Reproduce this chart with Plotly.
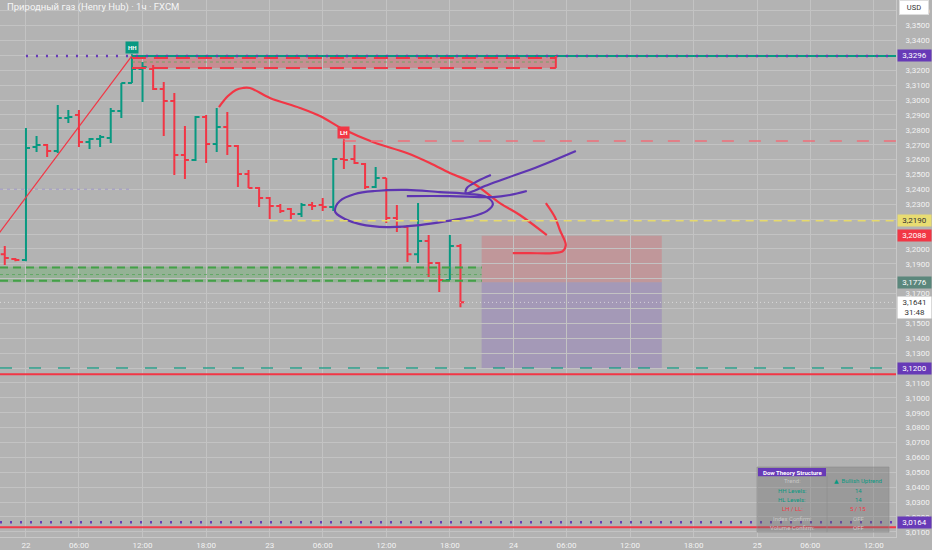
import plotly.graph_objects as go

# Hourly OHLC bars (bar index 0 = first bar of the 22nd)
bar_idx = list(range(-2, 42))
bar_open = [3.1965, 3.1932, 3.1925, 3.2685, 3.2698, 3.2658, 3.2879, 3.2900, 3.2718, 3.2738,
            3.2745, 3.2926, 3.3115, 3.3209, 3.3209, 3.3074, 3.2994, 3.2631, 3.2597, 3.2886,
            3.2705, 3.2819, 3.2691, 3.2503, 3.2409, 3.2342, 3.2288, 3.2268, 3.2234, 3.2295,
            3.2295, 3.2281, 3.2604, 3.2604, 3.2570, 3.2416, 3.2476, 3.2207, 3.2147, 3.1965,
            3.2053, 3.1905, 3.1791, 3.2019]
bar_high = [3.2019, 3.1939, 3.2812, 3.2758, 3.2705, 3.2967, 3.2933, 3.2933, 3.2745, 3.2765,
            3.2947, 3.3115, 3.3296, 3.3256, 3.3236, 3.3121, 3.3047, 3.2826, 3.2893, 3.2900,
            3.2947, 3.2920, 3.2698, 3.2530, 3.2416, 3.2348, 3.2301, 3.2275, 3.2308, 3.2315,
            3.2342, 3.2611, 3.2725, 3.2698, 3.2577, 3.2550, 3.2476, 3.2295, 3.2160, 3.2308,
            3.2093, 3.1912, 3.2093, 3.2033]
bar_low = [3.1892, 3.1918, 3.1918, 3.2651, 3.2617, 3.2644, 3.2846, 3.2685, 3.2671, 3.2685,
           3.2711, 3.2879, 3.3115, 3.2987, 3.3068, 3.2758, 3.2496, 3.2469, 3.2590, 3.2577,
           3.2651, 3.2631, 3.2416, 3.2409, 3.2281, 3.2201, 3.2241, 3.2201, 3.2214, 3.2261,
           3.2254, 3.2254, 3.2537, 3.2570, 3.2402, 3.2409, 3.2174, 3.2113, 3.1912, 3.1905,
           3.1811, 3.1710, 3.1791, 3.1609]
bar_close = [3.1939, 3.1925, 3.2678, 3.2698, 3.2658, 3.2879, 3.2886, 3.2718, 3.2738, 3.2752,
             3.2926, 3.3115, 3.3209, 3.3222, 3.3074, 3.2994, 3.2631, 3.2597, 3.2886, 3.2705,
             3.2819, 3.2691, 3.2503, 3.2409, 3.2342, 3.2288, 3.2254, 3.2234, 3.2295, 3.2288,
             3.2281, 3.2604, 3.2597, 3.2577, 3.2416, 3.2476, 3.2207, 3.2147, 3.1965, 3.2053,
             3.1905, 3.1791, 3.2019, 3.1641]

# time axis
tick_pos = [0, 5, 11, 17, 23, 28, 34, 40, 46, 51, 57, 63, 69, 74, 80]
tick_text = ["22", "06:00", "12:00", "18:00", "23", "06:00", "12:00", "18:00",
             "24", "06:00", "12:00", "18:00", "25", "06:00", "12:00"]

# levels
hh_idx, hh_price = 10, 3.3296
lh_idx, lh_price = 30, 3.2725
supply_zone = [3.3215, 3.3296]
supply_end = 50
eq_low_idx, eq_low = 23, 3.2190
old_level = 3.2401
demand_zone = [3.1776, 3.1880]
demand_end = 43
pos_start, pos_end = 43, 60
entry, stop, target = 3.1776, 3.2088, 3.1200
low_line = 3.1159
bottom_dotted = 3.0164
bottom_red = 3.0131
last_price = 3.1641
countdown = "31:48"

# zigzag leg into the HH
zz_x = [-3, 10]
zz_y = [3.2061, 3.3296]

# hand drawn lines
red_curve_x = [18.21, 19.06, 19.81, 20.47, 21.13, 23.02, 25.85, 27.74, 29.91, 32.74, 35.94,
               38.11, 40.0, 42.17, 44.72, 46.6, 49.15]
red_curve_y = [3.2953, 3.3027, 3.3068, 3.3081, 3.3081, 3.3014, 3.2947, 3.2893, 3.2805, 3.2718,
               3.2644, 3.2577, 3.2510, 3.2443, 3.2308, 3.2228, 3.2093]
red_hook_x = [49.06, 49.91, 50.38, 50.94, 50.66, 49.72, 47.55, 45.94]
red_hook_y = [3.2308, 3.2214, 3.2127, 3.2026, 3.1986, 3.1972, 3.1972, 3.1972]
loop_x = [29.15, 29.62, 31.04, 32.92, 35.94, 39.06, 41.89, 43.49, 44.06, 43.49, 41.89, 40.28,
          37.17, 34.06, 31.51, 30.09, 29.25, 29.15]
loop_y = [3.2261, 3.2322, 3.2369, 3.2389, 3.2396, 3.2382, 3.2369, 3.2348, 3.2301, 3.2254,
          3.2214, 3.2194, 3.2160, 3.2147, 3.2167, 3.2201, 3.2241, 3.2261]
stroke_x = [35.94, 40.0, 44.06, 45.66, 47.26]
stroke_y = [3.2355, 3.2355, 3.2348, 3.2362, 3.2389]
arrow_x = [43.87, 42.64, 41.6, 41.51, 42.26, 43.3, 45.38, 48.49, 51.89]
arrow_y = [3.2496, 3.2456, 3.2409, 3.2375, 3.2389, 3.2422, 3.2476, 3.2557, 3.2658]

# dow theory table
table_keys = ["Trend:", "HH Levels:", "HL Levels:", "LH / LL:", "Index Confirm:", "Volume Confirm:"]
table_vals = ["▲  Bullish Uptrend", "14", "14", "5 / 15", "OFF", "OFF"]

TEAL = "#089981"
RED = "#f23645"
PURPLE = "#673ab7"
BG = "#b3b3b3"
GRID = "#c3c3c3"
X_MIN, X_MAX = -2.45, 82.1
Y_MIN, Y_MAX = 3.0065, 3.3672
PLOT_W, PLOT_H = 896, 537


def px(x):
    return x / PLOT_W


def py(y):
    return 1 - y / PLOT_H


fig = go.Figure()

# zones and boxes
fig.add_shape(type="rect", x0=hh_idx, x1=supply_end, y0=supply_zone[0], y1=supply_zone[1],
              fillcolor="rgba(242,54,69,0.3)", line_width=0, layer="below")
fig.add_shape(type="rect", x0=X_MIN, x1=demand_end, y0=demand_zone[0], y1=demand_zone[1],
              fillcolor="rgba(76,175,80,0.3)", line_width=0, layer="below")
fig.add_shape(type="rect", x0=pos_start, x1=pos_end, y0=entry, y1=stop,
              fillcolor="rgba(242,54,69,0.22)", line_width=0, layer="below")
fig.add_shape(type="rect", x0=pos_start, x1=pos_end, y0=target, y1=entry,
              fillcolor="rgba(126,87,194,0.28)", line_width=0, layer="below")


def hline(x0, x1, y, color, width=1, dash="solid"):
    fig.add_shape(type="line", x0=x0, x1=x1, y0=y, y1=y,
                  line=dict(color=color, width=width, dash=dash))


hline(hh_idx, X_MAX, hh_price, TEAL, 2)
hline(0, X_MAX, hh_price, PURPLE, 2.5, "2px,8px")
hline(hh_idx, supply_end, supply_zone[1] - 0.0013, RED, 2, "14px,8px")
hline(hh_idx, supply_end, supply_zone[0], RED, 2, "14px,8px")
hline(hh_idx, supply_end, (supply_zone[0] + supply_zone[1]) / 2, "rgba(76,175,80,0.7)", 1, "3px,3px")
fig.add_shape(type="line", x0=supply_end, x1=supply_end, y0=supply_zone[0], y1=supply_zone[1],
              line=dict(color=RED, width=2))
hline(X_MIN, hh_idx, old_level, "rgba(150,140,200,0.8)", 1, "3px,4px")
hline(lh_idx, X_MAX, lh_price, "rgba(240,110,120,0.75)", 2, "12px,15px")
hline(eq_low_idx, X_MAX, eq_low, "#e6d96b", 1.5, "8px,6px")
hline(X_MIN, demand_end, demand_zone[1] - 0.0005, "#43a047", 2, "8px,5px")
hline(X_MIN, demand_end, demand_zone[0] + 0.0010, "#43a047", 2, "8px,5px")
hline(X_MIN, demand_end, (demand_zone[0] + demand_zone[1]) / 2, "rgba(67,160,71,0.6)", 1, "3px,3px")
hline(X_MIN, X_MAX, target, "rgba(8,153,129,0.6)", 2, "12px,17px")
hline(X_MIN, X_MAX, low_line, RED, 2)
hline(X_MIN, X_MAX, bottom_dotted, PURPLE, 2.5, "2px,8px")
hline(X_MIN, X_MAX, bottom_red, RED, 2)
hline(X_MIN, X_MAX, last_price, "rgba(235,235,235,0.7)", 1, "1px,3px")

# zigzag
fig.add_trace(go.Scatter(x=zz_x, y=zz_y, mode="lines", line=dict(color=RED, width=1.2),
                         hoverinfo="skip", showlegend=False))

# bars
fig.add_trace(go.Ohlc(
    x=bar_idx, open=bar_open, high=bar_high, low=bar_low, close=bar_close,
    increasing_line_color=TEAL, decreasing_line_color=RED,
    line_width=2, tickwidth=0.38, showlegend=False
))

# freehand drawings
for xs, ys, col in [(red_curve_x, red_curve_y, RED), (red_hook_x, red_hook_y, RED),
                    (loop_x, loop_y, "#5e35b1"), (stroke_x, stroke_y, "#5e35b1"),
                    (arrow_x, arrow_y, "#5e35b1")]:
    fig.add_trace(go.Scatter(x=xs, y=ys, mode="lines",
                             line=dict(color=col, width=2.2, shape="spline", smoothing=1.0),
                             hoverinfo="skip", showlegend=False))

annotations = []

# HH / LH markers
annotations.append(dict(x=hh_idx, y=hh_price, xref="x", yref="y", text="<b>HH</b>",
                        showarrow=True, ax=0, ay=-8, arrowhead=0, arrowwidth=1.5, arrowcolor=TEAL,
                        bgcolor=TEAL, font=dict(size=6, color="white"), borderpad=2))
annotations.append(dict(x=lh_idx, y=lh_price, xref="x", yref="y", text="<b>LH</b>",
                        showarrow=True, ax=0, ay=-8, arrowhead=0, arrowwidth=1.5, arrowcolor=RED,
                        bgcolor=RED, font=dict(size=6, color="white"), borderpad=2))

# price axis labels
for val, bg, fg in [(hh_price, PURPLE, "white"), (eq_low, "#e8dc72", "#333333"),
                    (stop, RED, "white"), (entry, "#5b877c", "white"),
                    (target, PURPLE, "white"), (bottom_dotted, PURPLE, "white")]:
    annotations.append(dict(x=1, y=val, xref="paper", yref="y", xanchor="left", xshift=1,
                            yanchor="middle",
                            text=f"{val:.4f}".replace(".", ","), showarrow=False,
                            bgcolor=bg, font=dict(size=8, color=fg), width=31, borderpad=1))
annotations.append(dict(x=1, y=last_price, xref="paper", yref="y", xanchor="left", xshift=1,
                        yanchor="top", yshift=6,
                        text=f"{last_price:.4f}".replace(".", ",") + "<br>" + countdown,
                        showarrow=False, bgcolor="white", font=dict(size=8, color="#333333"),
                        width=31, borderpad=1))

# title and currency
annotations.append(dict(x=px(5), y=py(7), xref="paper", yref="paper", xanchor="left",
                        yanchor="middle", showarrow=False,
                        text="Природный газ (Henry Hub) · 1ч · FXCM",
                        font=dict(size=9.5, color="#f6f6f6")))
annotations.append(dict(x=1, y=py(8), xref="paper", yref="paper", xanchor="left", xshift=3,
                        yanchor="middle", showarrow=False, text="USD", bgcolor="white",
                        bordercolor="#dddddd", borderwidth=1, borderpad=2, width=24,
                        font=dict(size=7.5, color="#333333")))

# table
tx0, tmid, tx1 = 757, 827, 889
ty0, row_h = 467, 9.3
fig.add_shape(type="rect", xref="paper", yref="paper", x0=px(tx0), x1=px(tx1),
              y0=py(ty0), y1=py(ty0 + row_h * 7), fillcolor="rgba(110,110,110,0.35)",
              line=dict(color="rgba(140,140,140,0.6)", width=1))
fig.add_shape(type="rect", xref="paper", yref="paper", x0=px(tx0 + 1), x1=px(tmid - 1),
              y0=py(ty0 + 1), y1=py(ty0 + row_h), fillcolor=PURPLE, line_width=0)
fig.add_shape(type="line", xref="paper", yref="paper", x0=px(tmid), x1=px(tmid),
              y0=py(ty0 + row_h), y1=py(ty0 + row_h * 7),
              line=dict(color="rgba(140,140,140,0.6)", width=1))
annotations.append(dict(x=px((tx0 + tmid) / 2), y=py(ty0 + row_h / 2 + 0.5), xref="paper",
                        yref="paper", xanchor="center", yanchor="middle", showarrow=False,
                        text="<b>Dow Theory Structure</b>",
                        font=dict(size=6, color="white")))
key_colors = ["#c6c6c6", TEAL, TEAL, RED, "#c6c6c6", "#c6c6c6"]
val_colors = [TEAL, TEAL, TEAL, RED, "#c6c6c6", "#c6c6c6"]
for r, (k, v) in enumerate(zip(table_keys, table_vals)):
    yc = ty0 + row_h * (r + 1.5)
    annotations.append(dict(x=px((tx0 + tmid) / 2), y=py(yc), xref="paper", yref="paper",
                            xanchor="center", yanchor="middle",
                            showarrow=False, text=k, font=dict(size=6, color=key_colors[r])))
    annotations.append(dict(x=px((tmid + tx1) / 2), y=py(yc), xref="paper", yref="paper",
                            xanchor="center", yanchor="middle",
                            showarrow=False, text=v, font=dict(size=6, color=val_colors[r])))

fig.update_layout(
    width=932, height=550,
    margin=dict(l=0, r=36, t=0, b=13),
    paper_bgcolor=BG, plot_bgcolor=BG,
    separators=", ",
    font=dict(family="Roboto, DejaVu Sans, sans-serif", color="#f2f2f2", size=8),
    showlegend=False,
    annotations=annotations,
    xaxis=dict(range=[X_MIN, X_MAX], tickvals=tick_pos, ticktext=tick_text,
               showgrid=True, gridcolor=GRID, gridwidth=1, zeroline=False,
               rangeslider=dict(visible=False), ticks="", showline=True,
               linecolor="#c8c8c8", tickfont=dict(size=8, color="#f2f2f2"),
               fixedrange=True),
    yaxis=dict(range=[Y_MIN, Y_MAX], side="right", dtick=0.01, tick0=3.0,
               tickformat=".4f", showgrid=True, gridcolor=GRID, gridwidth=1,
               zeroline=False, ticks="", showline=True, linecolor="#c8c8c8",
               ticklabelstandoff=7, tickfont=dict(size=8, color="#f2f2f2")),
)

# the page body has a default 8px margin; drop it so the chart fills the window
fig.write_html("out.html", post_script="document.body.style.margin='0';",
               config={"displayModeBar": False})
